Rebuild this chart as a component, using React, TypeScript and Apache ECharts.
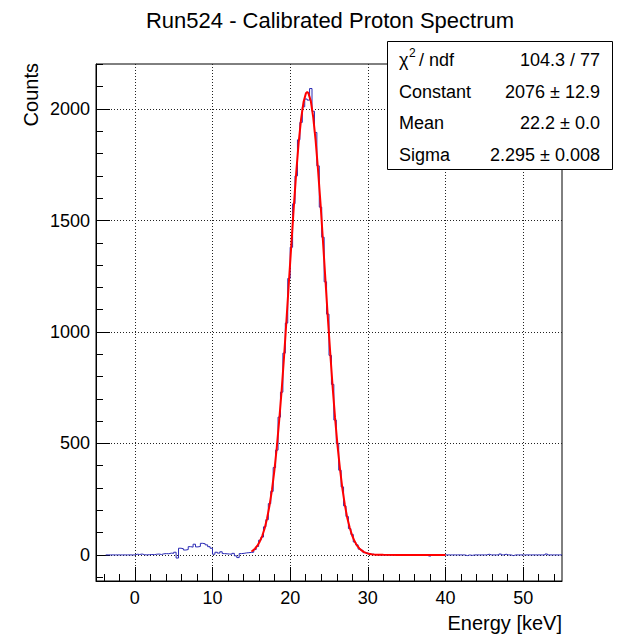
import React, { useEffect, useRef } from "react";
import * as echarts from "echarts";

// ---- Data ----
const BIN_WIDTH = 0.3125;
const FIRST_EDGE = -3.75;

// -3.75 .. 15 keV
const COUNTS_LOW = [
  0, 0, 0, 0, 0, 0, 0, 0, 0, 0, 0, 0,
  3, 2, 4, 1, 0, 1, 2, 1, 3, 4, 2, 5,
  6, 5, 8, 7, 12, -14, 30, 28, 22, 24, 37, 35,
  48, 36, 38, 52, 50, 45, 37, 30, 3, 12, 8, 14,
  6, 5, 4, 3, 7, -4, -12, 6, 7, 9, 10, 11,
];
// 15 .. 40 keV (fit range)
const COUNTS_PEAK = [
  12, 24, 38, 66, 80, 126, 158, 230, 285, 392,
  470, 618, 730, 905, 1040, 1240, 1380, 1575, 1700, 1862,
  1940, 2010, 2045, 2040, 2092, 1990, 1895, 1745, 1560, 1425,
  1225, 1080, 895, 765, 605, 500, 380, 305, 220, 172,
  118, 92, 58, 45, 26, 21, 10, 9, 4, 3,
  2, 1, 0, 0, 0, 0, 0, 0, 0, 0,
  0, 0, 0, 0, 0, 0, 0, 0, 0, 0,
  0, 0, 0, -5, 0, 0, 0, 0, 0, 0,
];
// 40 .. 55 keV
const COUNTS_HIGH = [
  0, 0, 0, 0, 0, 0, 0, 0,
  -3, 0, -2, 0, 0, 0, 0, 0,
  0, 3, 0, 0, 0, 0, 4, 0,
  3, 0, 0, -3, 0, 0, 0, 0,
  0, 0, 0, 0, 0, 0, 0, 0,
  0, 4, 0, 0, 0, 0, 0, 0,
];

const FIT_X = [
  15, 15.16, 15.47, 15.78, 16.09, 16.41, 16.72, 17.03, 17.34, 17.66, 17.97,
  18.28, 18.59, 18.91, 19.22, 19.53, 19.84, 20.16, 20.47, 20.78, 21.09, 21.41,
  21.72, 22.03, 22.2, 22.34, 22.66, 22.97, 23.28, 23.59, 23.91, 24.22, 24.53,
  24.84, 25.16, 25.47, 25.78, 26.09, 26.41, 26.72, 27.03, 27.34, 27.66, 27.97,
  28.28, 28.59, 28.91, 29.22, 29.53, 29.84, 30.16, 30.47, 30.78, 31.09, 32, 34, 40,
];
const FIT_Y = [
  15.2, 18.7, 28.1, 41.6, 60.3, 85.8, 119.8, 164.3, 221.2, 292.4, 379.4,
  483.0, 604.3, 741.2, 893.1, 1055.7, 1225.7, 1396.3, 1562.2, 1714.8, 1848.5, 1955.6,
  2031.0, 2070.4, 2076, 2071.9, 2035.5, 1962.7, 1858.0, 1726.2, 1574.9, 1409.8, 1239.4,
  1069.1, 905.8, 752.6, 614.5, 492.2, 387.1, 298.7, 226.4, 168.3, 123.0, 88.2,
  62.1, 42.8, 29.1, 19.3, 12.6, 8.1, 5.1, 3.2, 1.9, 1.1, 0.3, 0, 0,
];

const X_MAJOR = [0, 10, 20, 30, 40, 50];
const X_MINOR = [-4, -2, 2, 4, 6, 8, 12, 14, 16, 18, 22, 24, 26, 28, 32, 34, 36, 38, 42, 44, 46, 48, 52, 54];
const Y_MAJOR = [0, 500, 1000, 1500, 2000];
const Y_MINOR = [-100, 100, 200, 300, 400, 600, 700, 800, 900, 1100, 1200, 1300, 1400, 1600, 1700, 1800, 1900, 2100, 2200];

const TITLE = "Run524 - Calibrated Proton Spectrum";
const X_NAME = "Energy [keV]";
const Y_NAME = "Counts";
const STAT_LABELS = ["Constant", "Mean", "Sigma"];
const STAT_VALUES = ["104.3 / 77", "2076 \u00b1 12.9", "22.2 \u00b1 0.0", "2.295 \u00b1 0.008"];

const FONT = "'Liberation Sans', Arial, Helvetica, sans-serif";

export default function App() {
  const ref = useRef<HTMLDivElement>(null);
  useEffect(() => {
    if (!ref.current) return;
    const chart = echarts.init(ref.current, undefined, { renderer: "svg" });
    const counts = [...COUNTS_LOW, ...COUNTS_PEAK, ...COUNTS_HIGH];
    const hist: number[][] = [];
    counts.forEach((v, i) => {
      const lo = FIRST_EDGE + i * BIN_WIDTH;
      hist.push([lo, v], [lo + BIN_WIDTH, v]);
    });
    const fit = FIT_X.map((x, i) => [x, FIT_Y[i]]);

    const gridLine = { show: true, lineStyle: { color: "#222", type: [1, 2] as any, width: 1 } };
    const statRowsY = [91.5, 123.3, 155];
    const plain = (v: number) => String(v);

    chart.setOption({
      animation: false,
      grid: { left: 96, right: 55, top: 64, bottom: 56, show: true, borderColor: "#000", borderWidth: 1, backgroundColor: "transparent" },
      xAxis: [
        {
          type: "value", min: -5, max: 55, splitNumber: 6,
          axisLine: { show: true, onZero: false, lineStyle: { color: "#000", width: 1 } },
          axisTick: { show: true, inside: true, length: 14, customValues: X_MAJOR, lineStyle: { color: "#000" } },
          axisLabel: { customValues: X_MAJOR, fontSize: 18, color: "#000", fontFamily: FONT, margin: 8, formatter: plain },
          splitLine: gridLine,
        },
        {
          type: "value", min: -5, max: 55, position: "bottom",
          axisLine: { show: false, onZero: false },
          axisTick: { show: true, inside: true, length: 7, customValues: X_MINOR, lineStyle: { color: "#000" } },
          axisLabel: { show: false },
          splitLine: { show: false },
        },
      ],
      yAxis: [
        {
          type: "value", min: -117, max: 2202, splitNumber: 5,
          axisLine: { show: true, onZero: false, lineStyle: { color: "#000", width: 1 } },
          axisTick: { show: true, inside: true, length: 14, customValues: Y_MAJOR, lineStyle: { color: "#000" } },
          axisLabel: { customValues: Y_MAJOR, fontSize: 18, color: "#000", fontFamily: FONT, margin: 6, formatter: plain },
          splitLine: gridLine,
        },
        {
          type: "value", min: -117, max: 2202, position: "left",
          axisLine: { show: false, onZero: false },
          axisTick: { show: true, inside: true, length: 7, customValues: Y_MINOR, lineStyle: { color: "#000" } },
          axisLabel: { show: false },
          splitLine: { show: false },
        },
      ],
      series: [
        {
          type: "line", data: hist, showSymbol: false, silent: true, z: 2,
          lineStyle: { color: "#2a2ab4", width: 1 },
        },
        {
          type: "line", data: fit, showSymbol: false, silent: true, z: 3,
          lineStyle: { color: "#ff0000", width: 2 },
        },
      ],
      graphic: [
        { type: "text", x: 330, y: 20, z: 100, style: { text: TITLE, font: `22px ${FONT}`, fill: "#000", align: "center", verticalAlign: "middle" } },
        { type: "text", x: 31, y: 63, rotation: Math.PI / 2, z: 100, style: { text: Y_NAME, font: `20px ${FONT}`, fill: "#000", align: "right", verticalAlign: "middle" } },
        { type: "text", x: 562, y: 623, z: 100, style: { text: X_NAME, font: `20px ${FONT}`, fill: "#000", align: "right", verticalAlign: "middle" } },
        { type: "rect", z: 100, shape: { x: 387.5, y: 41.5, width: 225, height: 128 }, style: { fill: "#fff", stroke: "#000", lineWidth: 1 } },
        { type: "text", x: 399, y: 60, z: 101, style: { text: "\u03c7", font: `18px ${FONT}`, fill: "#000", align: "left", verticalAlign: "middle" } },
        { type: "text", x: 409, y: 53, z: 101, style: { text: "2", font: `12px ${FONT}`, fill: "#000", align: "left", verticalAlign: "middle" } },
        { type: "text", x: 419, y: 60, z: 101, style: { text: "/ ndf", font: `18px ${FONT}`, fill: "#000", align: "left", verticalAlign: "middle" } },
        ...STAT_LABELS.map((t, i) => ({
          type: "text", x: 399, y: statRowsY[i], z: 101,
          style: { text: t, font: `18px ${FONT}`, fill: "#000", align: "left", verticalAlign: "middle" },
        })),
        ...STAT_VALUES.map((t, i) => ({
          type: "text", x: 600, y: i === 0 ? 60 : statRowsY[i - 1], z: 101,
          style: { text: t, font: `18px ${FONT}`, fill: "#000", align: "right", verticalAlign: "middle" },
        })),
      ],
    });
    return () => chart.dispose();
  }, []);
  return <div ref={ref} style={{ position: "absolute", left: 0, top: 0, width: 617, height: 637 }} />;
}
